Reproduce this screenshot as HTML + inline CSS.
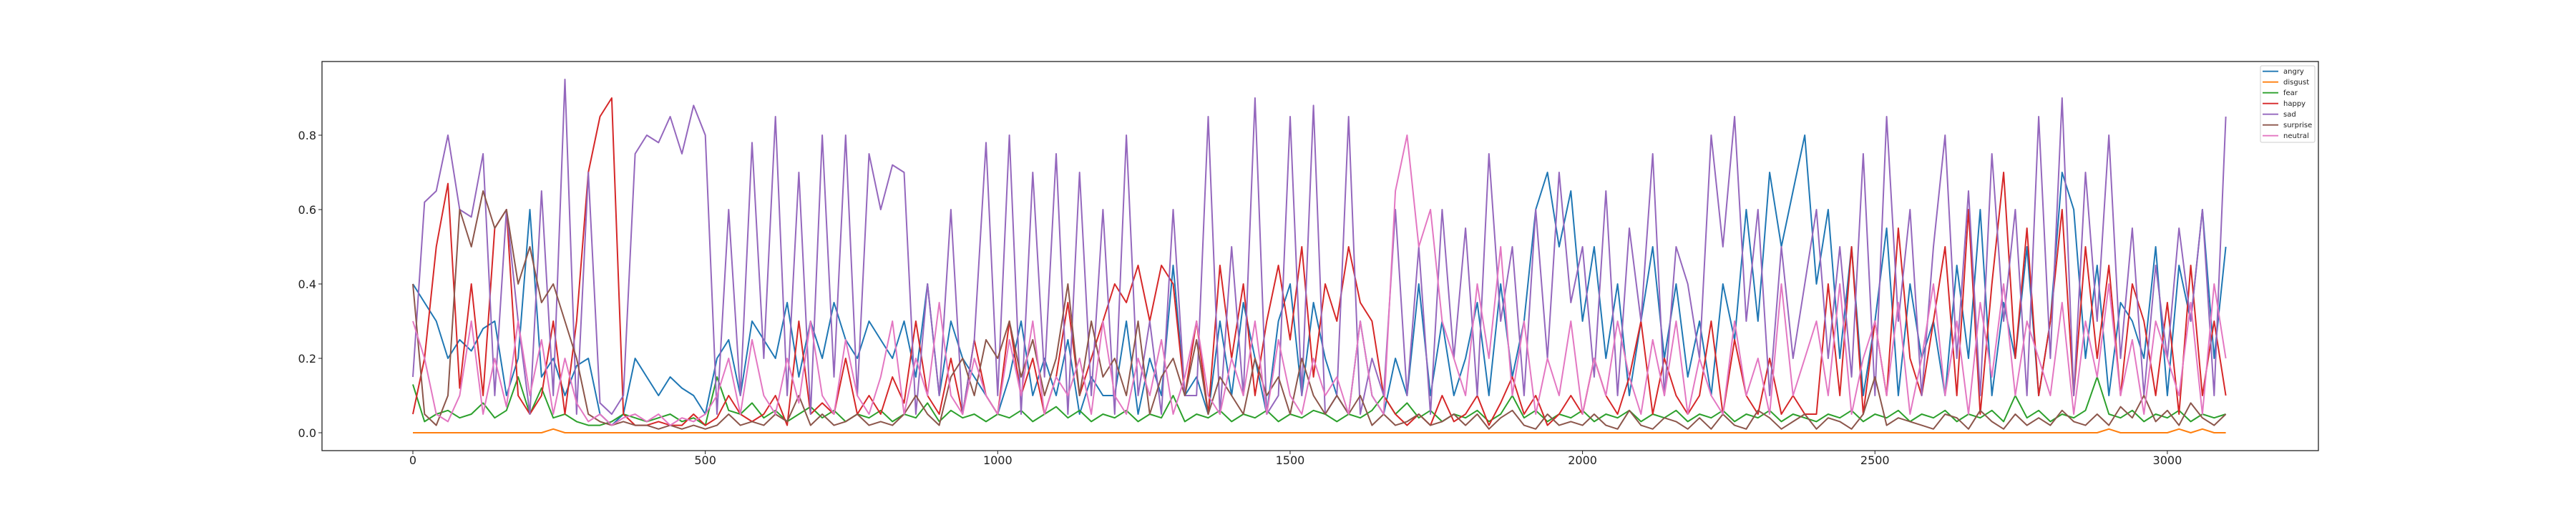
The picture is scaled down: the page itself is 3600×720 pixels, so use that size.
<!DOCTYPE html>
<html><head><meta charset="utf-8"><style>
html,body{margin:0;padding:0;background:#fff}
svg{display:block;font-family:"DejaVu Sans","Liberation Sans",sans-serif}
</style></head><body>
<svg id="chart" width="3600" height="720" viewBox="0 0 3600 720" xmlns="http://www.w3.org/2000/svg">
<rect x="0" y="0" width="3600" height="720" fill="#fff"/>
<g id="series"></g>
<rect x="450" y="86" width="2790" height="544" fill="none" stroke="#222" stroke-width="1.3"/>
<g id="xaxis"></g>
<g id="yaxis"></g>
<g id="legend"></g>
</svg>
<script>
const step = 20;
const xTicks = [0,500,1000,1500,2000,2500,3000];
const yTicks = [0.0,0.2,0.4,0.6,0.8];
const yTickLabels = ["0.0","0.2","0.4","0.6","0.8"];
const seriesNames = ["angry","disgust","fear","happy","sad","surprise","neutral"];
const angry = [0.4,0.35,0.3,0.2,0.25,0.22,0.28,0.3,0.1,0.2,
0.6,0.15,0.2,0.1,0.18,0.2,0.05,0.02,0.05,0.2,
0.15,0.1,0.15,0.12,0.1,0.05,0.2,0.25,0.1,0.3,
0.25,0.2,0.35,0.15,0.3,0.2,0.35,0.25,0.2,0.3,
0.25,0.2,0.3,0.15,0.4,0.1,0.3,0.2,0.15,0.1,
0.05,0.15,0.3,0.1,0.2,0.1,0.25,0.05,0.15,0.1,
0.1,0.3,0.05,0.2,0.1,0.45,0.1,0.15,0.05,0.3,
0.1,0.35,0.2,0.05,0.3,0.4,0.1,0.35,0.2,0.1,
0.05,0.3,0.1,0.05,0.2,0.1,0.4,0.1,0.3,0.1,
0.2,0.35,0.1,0.4,0.15,0.3,0.6,0.7,0.5,0.65,
0.3,0.5,0.2,0.4,0.1,0.3,0.5,0.2,0.4,0.15,
0.3,0.1,0.4,0.25,0.6,0.3,0.7,0.5,0.65,0.8,
0.4,0.6,0.2,0.5,0.1,0.3,0.55,0.1,0.4,0.2,
0.3,0.1,0.45,0.2,0.6,0.1,0.35,0.2,0.5,0.1,
0.3,0.7,0.6,0.2,0.45,0.1,0.35,0.3,0.2,0.5,
0.1,0.45,0.3,0.6,0.2,0.5];
const disgust = [0,0,0,0,0,0,0,0,0,0, 0,0,0.01,0,0,0,0,0,0,0,
0,0,0,0,0,0,0,0,0,0, 0,0,0,0,0,0,0,0,0,0, 0,0,0,0,0,0,0,0,0,0,
0,0,0,0,0,0,0,0,0,0, 0,0,0,0,0,0,0,0,0,0, 0,0,0,0,0,0,0,0,0,0,
0,0,0,0,0,0,0,0,0,0, 0,0,0,0,0,0,0,0,0,0, 0,0,0,0,0,0,0,0,0,0,
0,0,0,0,0,0,0,0,0,0, 0,0,0,0,0,0,0,0,0,0, 0,0,0,0,0,0,0,0,0,0,
0,0,0,0,0,0.01,0,0,0,0, 0,0.01,0,0.01,0,0];
const fear = [0.13,0.03,0.05,0.06,0.04,0.05,0.08,0.04,0.06,0.15,
0.05,0.12,0.04,0.05,0.03,0.02,0.02,0.03,0.05,0.04,
0.03,0.04,0.05,0.03,0.04,0.02,0.15,0.06,0.05,0.08,
0.04,0.06,0.03,0.05,0.07,0.04,0.06,0.03,0.05,0.04,
0.06,0.03,0.05,0.04,0.08,0.03,0.06,0.04,0.05,0.03,
0.05,0.04,0.06,0.03,0.05,0.07,0.04,0.06,0.03,0.05,
0.04,0.06,0.03,0.05,0.04,0.1,0.03,0.05,0.04,0.06,
0.03,0.05,0.04,0.06,0.03,0.05,0.04,0.06,0.05,0.03,
0.05,0.04,0.06,0.1,0.05,0.08,0.04,0.06,0.03,0.05,
0.04,0.06,0.03,0.05,0.1,0.04,0.06,0.03,0.05,0.04,
0.06,0.03,0.05,0.04,0.06,0.03,0.05,0.04,0.06,0.03,
0.05,0.04,0.06,0.03,0.05,0.04,0.06,0.03,0.05,0.04,
0.03,0.05,0.04,0.06,0.03,0.05,0.04,0.06,0.03,0.05,
0.04,0.06,0.03,0.05,0.04,0.06,0.03,0.1,0.04,0.06,
0.03,0.05,0.04,0.06,0.15,0.05,0.04,0.06,0.03,0.05,
0.04,0.06,0.03,0.05,0.04,0.05];
const happy = [0.05,0.2,0.5,0.67,0.12,0.4,0.1,0.55,0.6,0.1,
0.05,0.1,0.3,0.05,0.3,0.7,0.85,0.9,0.05,0.02,
0.02,0.03,0.02,0.02,0.05,0.02,0.04,0.1,0.05,0.03,
0.05,0.1,0.02,0.3,0.05,0.08,0.05,0.2,0.05,0.1,
0.05,0.15,0.08,0.3,0.1,0.05,0.2,0.05,0.25,0.1,
0.05,0.3,0.1,0.2,0.05,0.15,0.35,0.1,0.2,0.3,
0.4,0.35,0.45,0.3,0.45,0.4,0.1,0.3,0.05,0.45,
0.2,0.4,0.1,0.3,0.45,0.25,0.5,0.15,0.4,0.3,
0.5,0.35,0.3,0.1,0.05,0.02,0.05,0.02,0.1,0.03,
0.05,0.1,0.02,0.08,0.15,0.05,0.1,0.02,0.05,0.1,
0.05,0.2,0.1,0.05,0.15,0.3,0.05,0.2,0.1,0.05,
0.1,0.3,0.05,0.25,0.1,0.05,0.2,0.05,0.1,0.05,
0.05,0.4,0.1,0.5,0.05,0.3,0.1,0.55,0.2,0.1,
0.3,0.5,0.1,0.6,0.05,0.4,0.7,0.2,0.55,0.1,
0.3,0.6,0.1,0.5,0.2,0.45,0.1,0.4,0.3,0.1,
0.35,0.05,0.45,0.1,0.3,0.1];
const sad = [0.15,0.62,0.65,0.8,0.6,0.58,0.75,0.1,0.6,0.3,
0.05,0.65,0.1,0.95,0.05,0.7,0.08,0.05,0.1,0.75,
0.8,0.78,0.85,0.75,0.88,0.8,0.05,0.6,0.1,0.78,
0.2,0.85,0.1,0.7,0.05,0.8,0.15,0.8,0.1,0.75,
0.6,0.72,0.7,0.05,0.4,0.1,0.6,0.05,0.25,0.78,
0.1,0.8,0.05,0.7,0.15,0.75,0.05,0.7,0.1,0.6,
0.05,0.8,0.1,0.3,0.05,0.6,0.1,0.1,0.85,0.05,
0.5,0.1,0.9,0.05,0.1,0.85,0.1,0.88,0.05,0.1,
0.85,0.05,0.2,0.1,0.6,0.1,0.5,0.05,0.6,0.2,
0.55,0.1,0.75,0.3,0.5,0.1,0.6,0.2,0.7,0.35,
0.5,0.15,0.65,0.1,0.55,0.3,0.75,0.1,0.5,0.4,
0.2,0.8,0.5,0.85,0.3,0.6,0.1,0.5,0.2,0.4,
0.6,0.2,0.5,0.15,0.75,0.1,0.85,0.3,0.6,0.1,
0.5,0.8,0.2,0.65,0.1,0.75,0.3,0.6,0.1,0.85,
0.2,0.9,0.1,0.7,0.3,0.8,0.2,0.55,0.1,0.45,
0.2,0.55,0.3,0.6,0.1,0.85];
const surprise = [0.4,0.05,0.02,0.1,0.6,0.5,0.65,0.55,0.6,0.4,
0.5,0.35,0.4,0.3,0.2,0.05,0.03,0.02,0.03,0.02,
0.02,0.01,0.02,0.01,0.02,0.01,0.02,0.05,0.02,0.03,
0.02,0.05,0.03,0.1,0.02,0.05,0.02,0.03,0.05,0.02,
0.03,0.02,0.05,0.1,0.05,0.02,0.15,0.2,0.1,0.25,
0.2,0.3,0.15,0.25,0.1,0.2,0.4,0.1,0.3,0.15,
0.2,0.1,0.3,0.05,0.15,0.2,0.1,0.25,0.05,0.15,
0.1,0.05,0.2,0.1,0.15,0.05,0.2,0.1,0.05,0.1,
0.05,0.1,0.02,0.05,0.02,0.03,0.05,0.02,0.03,0.05,
0.02,0.05,0.01,0.04,0.06,0.02,0.01,0.05,0.02,0.03,
0.02,0.05,0.02,0.01,0.06,0.02,0.01,0.04,0.03,0.01,
0.04,0.01,0.05,0.02,0.01,0.06,0.04,0.01,0.03,0.05,
0.01,0.04,0.03,0.01,0.05,0.15,0.02,0.04,0.03,0.02,
0.01,0.05,0.04,0.01,0.06,0.03,0.01,0.05,0.02,0.04,
0.02,0.06,0.03,0.02,0.05,0.02,0.07,0.04,0.1,0.03,
0.06,0.02,0.08,0.04,0.02,0.05];
const neutral = [0.3,0.2,0.05,0.03,0.1,0.3,0.05,0.2,0.07,0.3,
0.1,0.25,0.05,0.2,0.08,0.03,0.05,0.02,0.04,0.05,
0.03,0.05,0.02,0.04,0.03,0.05,0.1,0.2,0.05,0.25,
0.1,0.05,0.2,0.08,0.3,0.1,0.05,0.25,0.1,0.05,
0.15,0.3,0.05,0.2,0.1,0.35,0.1,0.05,0.2,0.1,
0.05,0.25,0.1,0.3,0.05,0.15,0.1,0.2,0.05,0.3,
0.1,0.05,0.2,0.1,0.25,0.05,0.15,0.3,0.1,0.05,
0.2,0.1,0.3,0.05,0.25,0.1,0.05,0.2,0.1,0.15,
0.05,0.3,0.1,0.05,0.65,0.8,0.5,0.6,0.3,0.2,
0.1,0.4,0.2,0.5,0.1,0.3,0.05,0.2,0.1,0.3,
0.05,0.2,0.1,0.3,0.15,0.05,0.25,0.1,0.3,0.05,
0.2,0.1,0.05,0.3,0.1,0.2,0.05,0.4,0.1,0.2,
0.3,0.1,0.4,0.05,0.2,0.3,0.1,0.35,0.05,0.2,
0.4,0.1,0.3,0.05,0.35,0.15,0.4,0.1,0.3,0.2,
0.1,0.35,0.05,0.3,0.15,0.4,0.1,0.25,0.05,0.3,
0.2,0.1,0.35,0.05,0.4,0.2];
const colors = ["#1f77b4","#ff7f0e","#2ca02c","#d62728","#9467bd","#8c564b","#e377c2"];
const seriesData = [angry,disgust,fear,happy,sad,surprise,neutral];

const X0 = 577, XPER = 0.8173;
const Y0 = 605, YPER = 520;
function xs(v){ return X0 + v*XPER; }
function ys(v){ return Y0 - v*YPER; }
const NS = "http://www.w3.org/2000/svg";
const gS = document.getElementById('series');
seriesData.forEach((arr, si) => {
  const pts = arr.map((v,i) => xs(i*step).toFixed(1)+','+ys(v).toFixed(1)).join(' ');
  const pl = document.createElementNS(NS,'polyline');
  pl.setAttribute('points', pts);
  pl.setAttribute('fill','none');
  pl.setAttribute('stroke', colors[si]);
  pl.setAttribute('stroke-width','2');
  pl.setAttribute('stroke-linejoin','round');
  
  
  gS.appendChild(pl);
});
const gX = document.getElementById('xaxis');
xTicks.forEach(t => {
  const x = xs(t);
  const ln = document.createElementNS(NS,'line');
  ln.setAttribute('x1',x); ln.setAttribute('x2',x); ln.setAttribute('y1',630); ln.setAttribute('y2',635);
  ln.setAttribute('stroke','#222');
  
  
  gX.appendChild(ln);
  const tx = document.createElementNS(NS,'text');
  tx.setAttribute('x',x); tx.setAttribute('y',649); tx.setAttribute('text-anchor','middle');
  tx.setAttribute('font-size','16'); tx.setAttribute('fill','#222');
  tx.textContent = String(t);
  
  
  gX.appendChild(tx);
});
const gY = document.getElementById('yaxis');
yTicks.forEach((t,i) => {
  const y = ys(t);
  const ln = document.createElementNS(NS,'line');
  ln.setAttribute('x1',445); ln.setAttribute('x2',450); ln.setAttribute('y1',y); ln.setAttribute('y2',y);
  ln.setAttribute('stroke','#222');
  
  
  gY.appendChild(ln);
  const tx = document.createElementNS(NS,'text');
  tx.setAttribute('x',442); tx.setAttribute('y',y+6); tx.setAttribute('text-anchor','end');
  tx.setAttribute('font-size','16'); tx.setAttribute('fill','#222');
  tx.textContent = yTickLabels[i];
  
  
  gY.appendChild(tx);
});
const gL = document.getElementById('legend');
const box = document.createElementNS(NS,'rect');
box.setAttribute('x',3159); box.setAttribute('y',92); box.setAttribute('width',76); box.setAttribute('height',107);
box.setAttribute('rx',2); box.setAttribute('fill','#fff'); box.setAttribute('fill-opacity','0.8'); box.setAttribute('stroke','#ccc');


gL.appendChild(box);
seriesNames.forEach((n,i) => {
  const y = 99.7 + i*15;
  const ln = document.createElementNS(NS,'line');
  ln.setAttribute('x1',3162); ln.setAttribute('x2',3184); ln.setAttribute('y1',y); ln.setAttribute('y2',y);
  ln.setAttribute('stroke',colors[i]); ln.setAttribute('stroke-width','1.8');
  
  
  gL.appendChild(ln);
  const tx = document.createElementNS(NS,'text');
  tx.setAttribute('x',3191); tx.setAttribute('y',y+3.5);
  tx.setAttribute('font-size','10'); tx.setAttribute('fill','#222');
  tx.textContent = n;
  
  
  gL.appendChild(tx);
});
</script>
</body></html>
